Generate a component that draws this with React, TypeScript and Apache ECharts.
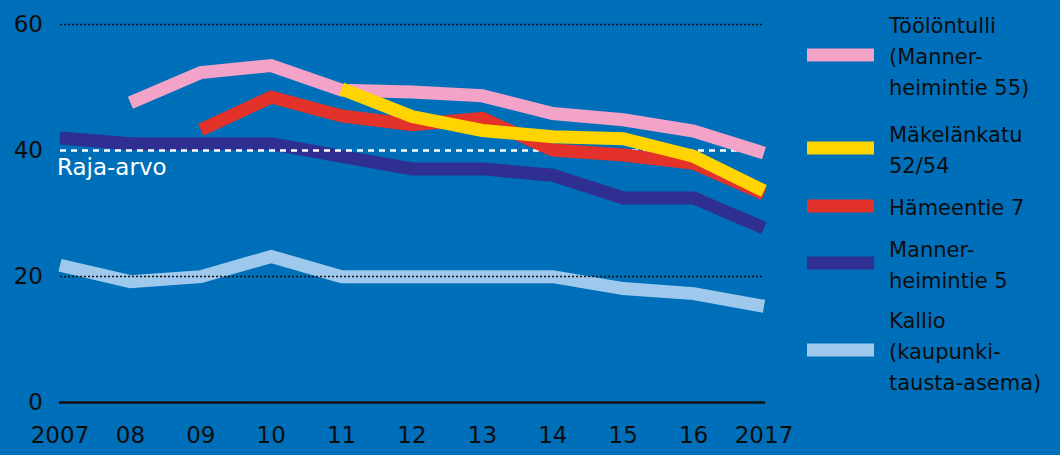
import React, { useEffect, useRef } from "react";
import * as echarts from "echarts";

const years = ["2007", "08", "09", "10", "11", "12", "13", "14", "15", "16", "2017"];
const toolontulli = [null, 47.5, 52.3, 53.4, 49.5, 49.2, 48.6, 45.8, 44.8, 43, 39.5];
const makelankatu = [null, null, null, null, 49.7, 45.3, 43.1, 42.1, 41.8, 39, 33.5];
const hameentie = [null, null, 43.2, 48.4, 45.4, 44, 45, 40, 39.2, 37.9, 33];
const mannerheimintie5 = [41.9, 41, 41, 41, 39, 37, 37, 36, 32.4, 32.4, 27.6];
const kallio = [21.7, 19.1, 19.9, 23.1, 19.9, 19.9, 19.9, 19.9, 18, 17.2, 15.2];
const yTicks = [0, 20, 40, 60];
const limitValue = 40;
const limitLabel = "Raja-arvo";

const seriesNames = [
  "Töölöntulli\n(Manner-\nheimintie 55)",
  "Mäkelänkatu\n52/54",
  "Hämeentie 7",
  "Manner-\nheimintie 5",
  "Kallio\n(kaupunki-\ntausta-asema)",
];
const seriesData = [toolontulli, makelankatu, hameentie, mannerheimintie5, kallio];
const colors = ["#f4a3c8", "#ffd400", "#e2322a", "#2f2f91", "#9ec9ec"];
const zOrder = [4, 5, 3, 2, 1];
const legendCenters = [55, 148, 206, 263, 350];

const BG = "#006fb9";
const FONT = "DejaVu Sans";
const TXT = "#0d0d0d";

export default function App() {
  const ref = useRef<HTMLDivElement>(null);
  useEffect(() => {
    if (!ref.current) return;
    const chart = echarts.init(ref.current, null, { renderer: "svg" });
    const series: any[] = seriesData.map((d, i) => ({
      name: seriesNames[i],
      type: "line",
      data: d,
      z: zOrder[i] + 2,
      showSymbol: false,
      silent: true,
      connectNulls: false,
      lineStyle: { color: colors[i], width: 13, cap: "butt", join: "miter" },
    }));
    // grid lines (black dotted) under the lines
    series.push({
      type: "line",
      data: years.map(() => null),
      z: 1,
      silent: true,
      markLine: {
        silent: true,
        symbol: "none",
        label: { show: false },
        lineStyle: { color: "#111", type: [2, 2], width: 1.3 },
        data: yTicks.filter((v) => v !== 0 && v !== limitValue).map((v) => ({ yAxis: v })),
      },
    });
    // limit line (white dashed) on top
    series.push({
      type: "line",
      data: years.map(() => null),
      z: 20,
      silent: true,
      markLine: {
        silent: true,
        symbol: "none",
        lineStyle: { color: "#ffffff", type: [6, 5], width: 2.5 },
        label: {
          show: true,
          position: "insideStartBottom",
          formatter: limitLabel,
          color: "#ffffff",
          fontSize: 23,
          fontFamily: FONT,
          distance: [-3, 5],
        },
        data: [{ yAxis: limitValue }],
      },
    });

    const graphic: any[] = [];
    seriesNames.forEach((n, i) => {
      graphic.push({
        type: "rect",
        shape: { x: 807, y: legendCenters[i] - 6.5, width: 67, height: 13 },
        style: { fill: colors[i] },
      });
      graphic.push({
        type: "text",
        x: 889,
        y: legendCenters[i] + 2,
        style: {
          text: n,
          fill: TXT,
          fontSize: 21,
          fontFamily: FONT,
          lineHeight: 31,
          verticalAlign: "middle",
          align: "left",
        },
      });
    });

    chart.setOption({
      animation: false,
      backgroundColor: BG,
      grid: { left: 60, right: 296, top: 24, bottom: 53 },
      xAxis: {
        type: "category",
        data: years,
        boundaryGap: false,
        axisLine: { show: true, lineStyle: { color: "#111", width: 2.5 } },
        axisTick: { show: false },
        axisLabel: { color: TXT, fontSize: 23, fontFamily: FONT, margin: 21, interval: 0 },
        splitLine: { show: false },
      },
      yAxis: {
        type: "value",
        min: 0,
        max: 60,
        interval: 20,
        axisLine: { show: false },
        axisTick: { show: false },
        axisLabel: { color: TXT, fontSize: 23, fontFamily: FONT, margin: 17 },
        splitLine: { show: false },
      },
      series,
      graphic,
    });
    return () => chart.dispose();
  }, []);
  return (
    <div
      ref={ref}
      style={{ position: "absolute", left: 0, top: 0, width: 1060, height: 455, background: BG }}
    />
  );
}
